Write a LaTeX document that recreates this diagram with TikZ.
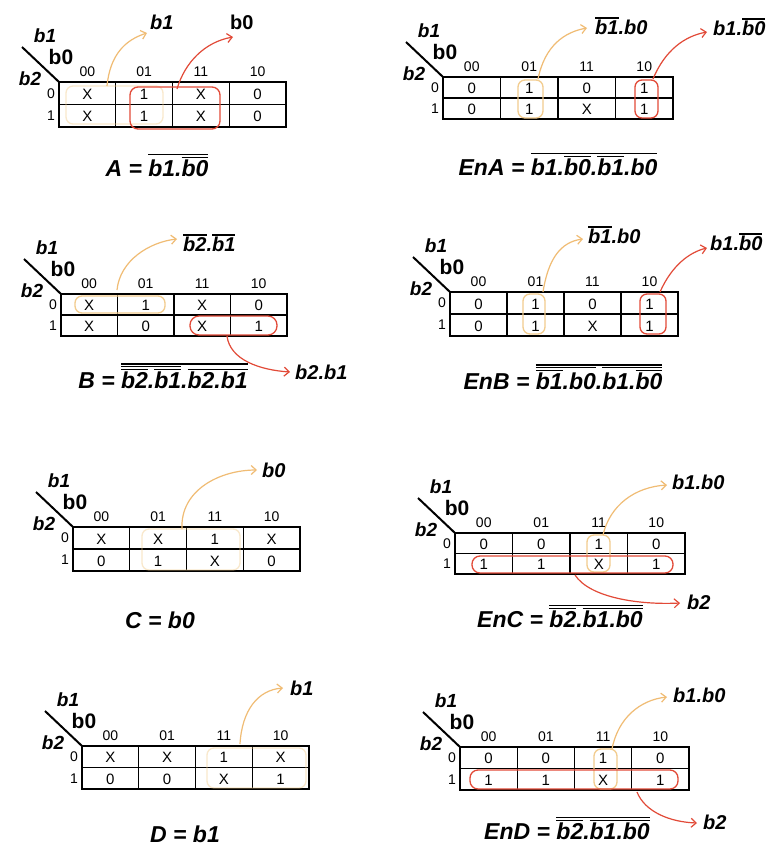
\documentclass[tikz,border=0pt]{standalone}
\usepackage{fontspec}
\setmainfont{Liberation Sans}
\usetikzlibrary{arrows.meta}
\newcommand\ol[1]{\vbox{\hrule height 1.3pt\kern 1.6pt\hbox{#1}}}
\definecolor{yelc}{HTML}{F0BC74}
\definecolor{redc}{HTML}{E24A38}
\definecolor{ygrpc}{HTML}{F2CC8E}
\tikzset{
  cellt/.style={inner sep=0pt, font=\fontsize{15}{15}\selectfont},
  hdrt/.style={inner sep=0pt, font=\fontsize{14}{14}\selectfont},
  vlab/.style={inner sep=0pt, font=\fontsize{19}{19}\selectfont\bfseries\itshape},
  vlabup/.style={inner sep=0pt, font=\fontsize{21}{21}\selectfont\bfseries},
  outlab/.style={inner sep=0pt, anchor=west, font=\fontsize{20}{20}\selectfont\bfseries\itshape},
  formula/.style={inner sep=0pt, font=\fontsize{23}{23}\selectfont\bfseries\itshape},
  outerbox/.style={draw=black, line width=2.3pt},
  innerline/.style={draw=black, line width=1.3pt},
  diagline/.style={draw=black, line width=2pt},
  ygroup/.style={draw=ygrpc, line width=1.3pt, rounded corners=7pt},
  ygroupfaint/.style={draw=ygrpc, line width=1.3pt, rounded corners=7pt, opacity=0.45},
  rgroup/.style={draw=redc, line width=1.3pt, rounded corners=8pt},
  yarrow/.style={draw=yelc, line width=1.2pt, -{Straight Barb[length=5pt,width=9pt]}},
  rarrow/.style={draw=redc, line width=1.2pt, -{Straight Barb[length=5pt,width=9pt]}},
}
% #1 name, #2 left, #3 top, #4 right, #5 bottom, #6 row0, #7 row1
\newcommand\kmap[7]{%
  \pgfmathsetmacro\kw{(#4-#2)/4}%
  \pgfmathsetmacro\kh{(#5-#3)/2}%
  \foreach \cc in {1,2,3} {\draw[innerline] ({#2+\cc*\kw},#3) -- ({#2+\cc*\kw},#5);}
  \draw[innerline] (#2,{#3+\kh}) -- (#4,{#3+\kh});
  \draw[outerbox] (#2,#3) rectangle (#4,#5);
  \foreach \v [count=\cc] in {#6} {\node[cellt] (#1-0-\cc) at ({#2+(\cc-0.5)*\kw},{#3+0.5*\kh+1}) {\v};}
  \foreach \v [count=\cc] in {#7} {\node[cellt] (#1-1-\cc) at ({#2+(\cc-0.5)*\kw},{#3+1.5*\kh+1}) {\v};}
  \foreach \h [count=\cc] in {00,01,11,10} {\node[hdrt] (#1-h\cc) at ({#2+(\cc-0.5)*\kw},{#3-10}) {\h};}
  \node[hdrt] (#1-r0) at ({#2-8},{#3+0.5*\kh}) {0};
  \node[hdrt] (#1-r1) at ({#2-8},{#3+1.5*\kh}) {1};
  \coordinate (#1-d1) at ({#2-37},{#3-35});
  \coordinate (#1-d2) at (#2,#3);
  \draw[diagline] (#1-d1) -- (#1-d2);
  \node[vlab] (#1-b1) at ({#2-14},{#3-46}) {b1};
  \node[vlabup] (#1-b0) at ({#2+2},{#3-25}) {b0};
  \node[vlab] (#1-b2) at ({#2-29},{#3-3}) {b2};
}
\begin{document}
\begin{tikzpicture}[x=1pt,y=-1pt]
\useasboundingbox[fill=white] (0,0) rectangle (778,847);

% ---------- A ----------
\kmap{A}{59}{82}{286}{127}{X,1,X,0}{X,1,X,0}
\draw[ygroupfaint] (66,86) rectangle (163,124);
\draw[rgroup] (130,87) rectangle (220,129);
\coordinate (A-ys) at (107,86); \coordinate (A-ye) at (147,33);
\coordinate (A-rs) at (177,89); \coordinate (A-re) at (233,37);
\node[outlab] (A-yl) at (150,22) {b1};
\node[outlab, font=\fontsize{20}{20}\selectfont\bfseries] (A-rl) at (230,22) {b0};
\draw[yarrow] (A-ys) .. controls (110,55) and (125,40) .. (A-ye);
\draw[rarrow] (A-rs) .. controls (185,62) and (205,42) .. (A-re);
\node[formula] (A-f) at (157,165) {A = \ol{b1.\ol{b0}}};

% ---------- EnA ----------
\kmap{EnA}{443}{77}{673}{119}{0,1,0,1}{0,1,X,1}
\draw[ygroup] (518,80) rectangle (543,118);
\draw[rgroup, rounded corners=7pt] (635,80) rectangle (658,118);
\coordinate (EnA-ys) at (538,79); \coordinate (EnA-ye) at (587,28);
\coordinate (EnA-rs) at (653,79); \coordinate (EnA-re) at (707,32);
\node[outlab] (EnA-yl) at (595,26) {\ol{b1}.b0};
\node[outlab] (EnA-rl) at (713,27) {b1.\ol{b0}};
\draw[yarrow] (EnA-ys) .. controls (545,45) and (565,32) .. (EnA-ye);
\draw[rarrow] (EnA-rs) .. controls (665,50) and (685,36) .. (EnA-re);
\node[formula] (EnA-f) at (558,164) {EnA = \ol{b1.\ol{b0}.\ol{b1}.b0}};

% ---------- B ----------
\kmap{B}{61}{294}{287}{336}{X,1,X,0}{X,0,X,1}
\draw[ygroup] (75,296) rectangle (165,313);
\draw[rgroup, rounded corners=9pt] (190,316) rectangle (277,335);
\coordinate (B-ys) at (117,290); \coordinate (B-ye) at (177,239);
\coordinate (B-rs) at (227,336); \coordinate (B-re) at (290,372);
\node[outlab] (B-yl) at (183,243) {\ol{b2}.\ol{b1}};
\node[outlab] (B-rl) at (295,372) {b2.b1};
\draw[yarrow] (B-ys) .. controls (120,260) and (150,242) .. (B-ye);
\draw[rarrow] (B-rs) .. controls (230,360) and (260,370) .. (B-re);
\node[formula] (B-f) at (163,376) {B = \ol{\ol{\ol{b2}.\ol{b1}}.\ol{b2.b1}}};

% ---------- EnB ----------
\kmap{EnB}{450}{292}{678}{336}{0,1,0,1}{0,1,X,1}
\draw[ygroup] (523,294) rectangle (545,334);
\draw[rgroup, rounded corners=7pt] (640,294) rectangle (666,334);
\coordinate (EnB-ys) at (543,292); \coordinate (EnB-ye) at (583,239);
\coordinate (EnB-rs) at (660,292); \coordinate (EnB-re) at (707,248);
\node[outlab] (EnB-yl) at (588,235) {\ol{b1}.b0};
\node[outlab] (EnB-rl) at (710,242) {b1.\ol{b0}};
\draw[yarrow] (EnB-ys) .. controls (548,260) and (560,242) .. (EnB-ye);
\draw[rarrow] (EnB-rs) .. controls (672,265) and (690,252) .. (EnB-re);
\node[formula] (EnB-f) at (563,377) {EnB = \ol{\ol{\ol{b1}.b0}.\ol{b1.\ol{b0}}}};

% ---------- C ----------
\kmap{C}{73}{527}{300}{571}{X,X,1,X}{0,1,X,0}
\draw[ygroupfaint] (142,529) rectangle (240,570);
\coordinate (C-ys) at (182,529); \coordinate (C-ye) at (257,470);
\node[outlab] (C-yl) at (262,470) {b0};
\draw[yarrow] (C-ys) .. controls (180,490) and (220,470) .. (C-ye);
\node[formula] (C-f) at (160,620) {C = b0};

% ---------- EnC ----------
\kmap{EnC}{455}{533}{685}{574}{0,0,1,0}{1,1,X,1}
\draw[ygroup] (587,535) rectangle (610,572);
\draw[rgroup] (472,556) rectangle (673,573);
\coordinate (EnC-ys) at (603,535); \coordinate (EnC-ye) at (667,485);
\coordinate (EnC-rs) at (575,575); \coordinate (EnC-re) at (680,603);
\node[outlab] (EnC-yl) at (672,482) {b1.b0};
\node[outlab] (EnC-rl) at (687,602) {b2};
\draw[yarrow] (EnC-ys) .. controls (610,505) and (635,487) .. (EnC-ye);
\draw[rarrow] (EnC-rs) .. controls (590,598) and (640,605) .. (EnC-re);
\node[formula] (EnC-f) at (560,616) {EnC = \ol{\ol{b2}.\ol{b1.b0}}};

% ---------- D ----------
\kmap{D}{82}{746}{309}{789}{X,X,1,X}{0,0,X,1}
\draw[ygroupfaint] (207,748) rectangle (306,788);
\coordinate (D-ys) at (240,744); \coordinate (D-ye) at (283,688);
\node[outlab] (D-yl) at (290,688) {b1};
\draw[yarrow] (D-ys) .. controls (242,710) and (258,690) .. (D-ye);
\node[formula] (D-f) at (185,834) {D = b1};

% ---------- EnD ----------
\kmap{EnD}{460}{747}{689}{790}{0,0,1,0}{1,1,X,1}
\draw[ygroup] (594,749) rectangle (617,789);
\draw[rgroup] (470,770) rectangle (678,789);
\coordinate (EnD-ys) at (612,749); \coordinate (EnD-ye) at (667,697);
\coordinate (EnD-rs) at (637,792); \coordinate (EnD-re) at (697,823);
\node[outlab] (EnD-yl) at (673,695) {b1.b0};
\node[outlab] (EnD-rl) at (703,822) {b2};
\draw[yarrow] (EnD-ys) .. controls (618,718) and (640,700) .. (EnD-ye);
\draw[rarrow] (EnD-rs) .. controls (645,812) and (670,822) .. (EnD-re);
\node[formula] (EnD-f) at (567,828) {EnD = \ol{\ol{b2}.\ol{b1.b0}}};
\end{tikzpicture}
\end{document}
